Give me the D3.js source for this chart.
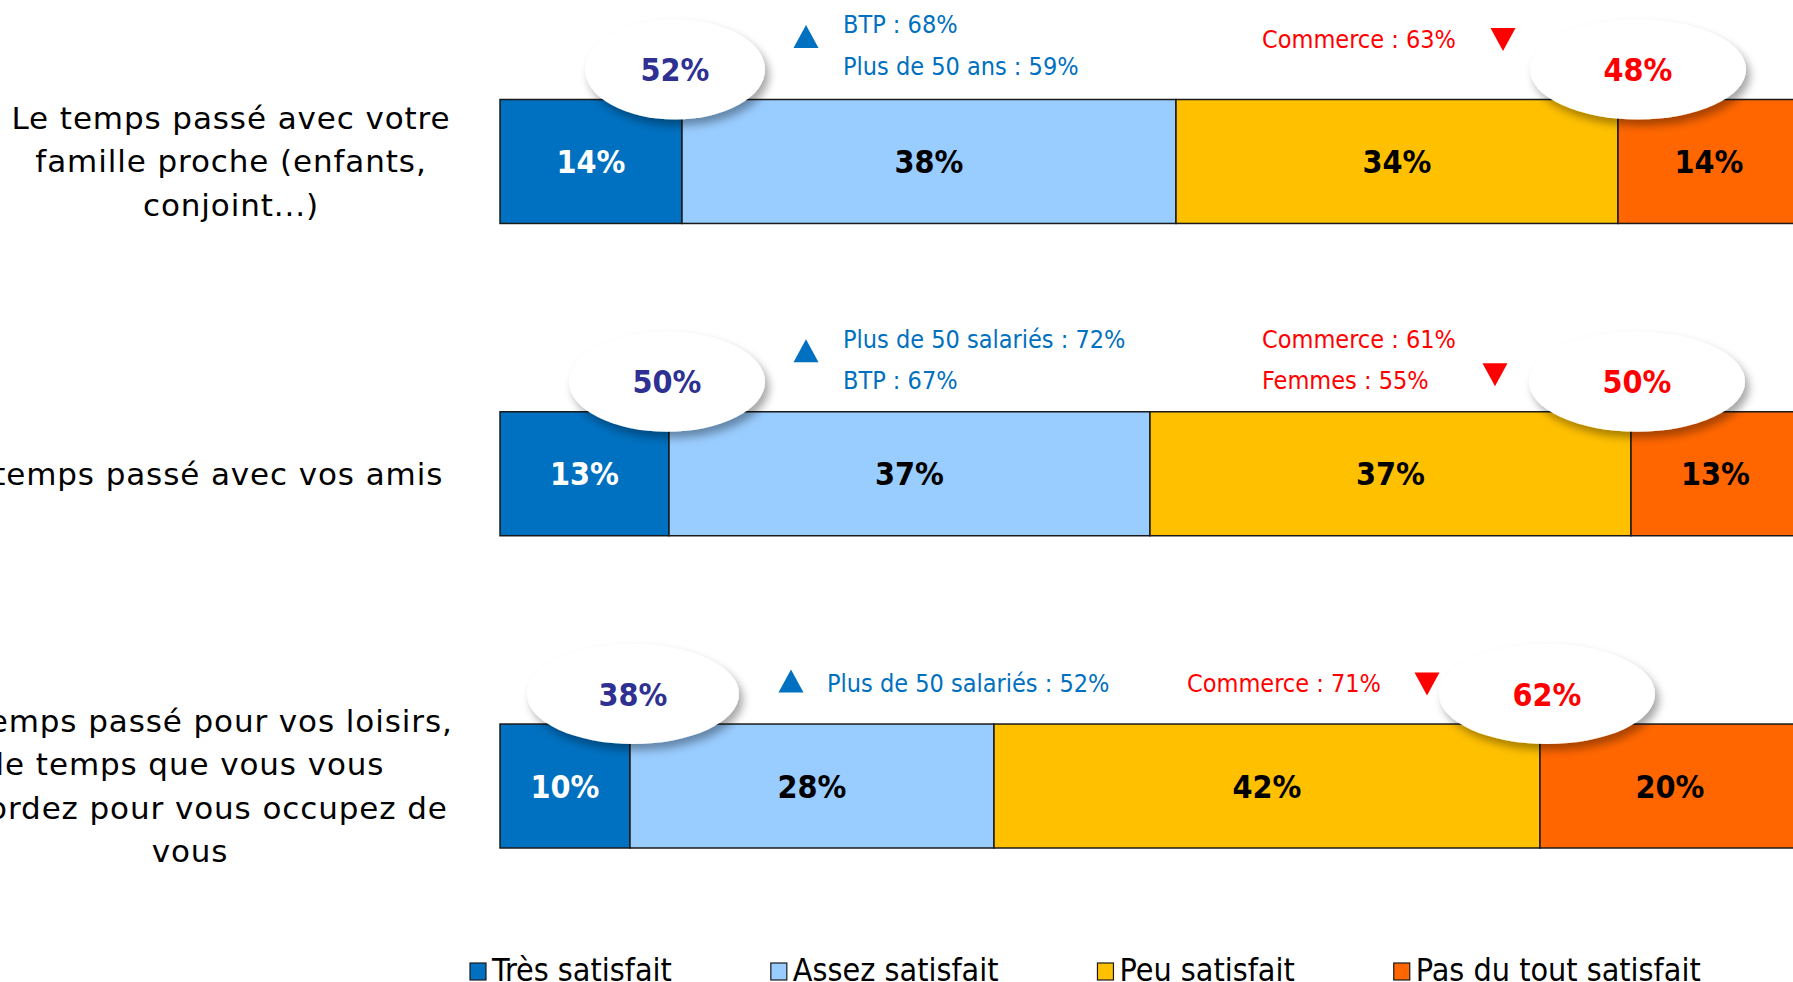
<!DOCTYPE html>
<html>
<head>
<meta charset="utf-8">
<script src="https://cdn.jsdelivr.net/npm/d3@7"></script>
<style>
  html, body { margin: 0; padding: 0; background: #fff; overflow: hidden; }
  svg { display: block; }
</style>
</head>
<body>
<svg width="1793" height="982"></svg>
<script>
const categoryLines = [
  ['Le temps passé avec votre', 'famille proche (enfants,', 'conjoint...)'],
  ['Le temps passé avec vos amis'],
  ['Le temps passé pour vos loisirs,', 'le temps que vous vous', 'accordez pour vous occupez de', 'vous']
];
const seriesNames = ['Très satisfait', 'Assez satisfait', 'Peu satisfait', 'Pas du tout satisfait'];
const tresSatisfait = [14, 13, 10];
const assezSatisfait = [38, 37, 28];
const peuSatisfait = [34, 37, 42];
const pasDuToutSatisfait = [14, 13, 20];
const totalSatisfait = [52, 50, 38];
const totalInsatisfait = [48, 50, 62];
const notesHausse = [['BTP : 68%', 'Plus de 50 ans : 59%'], ['Plus de 50 salariés : 72%', 'BTP : 67%'], ['Plus de 50 salariés : 52%']];
const notesBaisse = [['Commerce : 63%'], ['Commerce : 61%', 'Femmes : 55%'], ['Commerce : 71%']];

const colors = ['#0070C0', '#99CCFF', '#FFC000', '#FF6600'];
const labelColors = ['#ffffff', '#000000', '#000000', '#000000'];

// layout bits (pixels), per row
const labelCenterX = [231, 194, 190];
const lineH = 43.5;
const leftBubbleRx = [90, 98, 106];
const leftBubbleDx = [-7, -2, 3];
const rightBubbleDx = [20, 6, 7];
const noteLayout = [
  {upTriX: 806, upTextX: 843, upY: [-76, -34], upTriY: -63, downTextX: 1262, downY: [-61], downTriX: 1503, downTriY: -60},
  {upTriX: 806, upTextX: 843, upY: [-73, -32], upTriY: -61, downTextX: 1262, downY: [-73, -32], downTriX: 1495, downTriY: -37},
  {upTriX: 791, upTextX: 827, upY: [-41], upTriY: -43, downTextX: 1187, downY: [-41], downTriX: 1427, downTriY: -40}
];

const svg = d3.select('svg');

const defs = svg.append('defs');
defs.append('filter')
  .attr('id', 'shadow')
  .attr('x', '-30%').attr('y', '-30%').attr('width', '160%').attr('height', '170%')
  .append('feDropShadow')
  .attr('dx', 4).attr('dy', 6).attr('stdDeviation', 4)
  .attr('flood-color', '#000').attr('flood-opacity', 0.35);

const rows = categoryLines.map((lines, i) => {
  const vals = [tresSatisfait[i], assezSatisfait[i], peuSatisfait[i], pasDuToutSatisfait[i]];
  let acc = 0;
  const segs = vals.map((v, k) => {
    const s = {key: seriesNames[k], k: k, x0: acc, x1: acc + v, value: v};
    acc += v;
    return s;
  });
  return {i: i, lines: lines, segs: segs};
});

const x = d3.scaleLinear().domain([0, 100]).range([500, 1800]);
const y = d3.scaleBand()
  .domain(rows.map(d => d.i))
  .range([99.5, 848])
  .paddingInner(0.603)
  .paddingOuter(0);

// category labels
const labels = svg.append('g')
  .selectAll('text')
  .data(rows)
  .enter()
  .append('text')
  .attr('text-anchor', 'middle')
  .attr('font-family', 'DejaVu Sans')
  .attr('font-size', 31)
  .attr('letter-spacing', 0.9)
  .attr('fill', '#000')
  .attr('transform', d => {
    const top = y(d.i) + y.bandwidth() / 2 - (d.lines.length - 1) * lineH / 2 + 11;
    return 'translate(' + labelCenterX[d.i] + ',' + top + ')';
  });

labels.selectAll('tspan')
  .data(d => d.lines)
  .enter()
  .append('tspan')
  .attr('x', 0)
  .attr('y', (d, j) => j * lineH)
  .text(d => d);

// bars
const barGroups = svg.append('g')
  .selectAll('g')
  .data(rows)
  .enter()
  .append('g')
  .attr('transform', d => 'translate(0,' + y(d.i) + ')');

barGroups.selectAll('rect')
  .data(d => d.segs)
  .enter()
  .append('rect')
  .attr('x', d => x(d.x0))
  .attr('y', 0)
  .attr('width', d => x(d.x1) - x(d.x0))
  .attr('height', y.bandwidth())
  .attr('fill', d => colors[d.k])
  .attr('stroke', '#1a1a1a')
  .attr('stroke-width', 1.5);

barGroups.selectAll('text')
  .data(d => d.segs)
  .enter()
  .append('text')
  .attr('x', d => (x(d.x0) + x(d.x1)) / 2)
  .attr('y', y.bandwidth() / 2)
  .attr('dy', '0.36em')
  .attr('text-anchor', 'middle')
  .attr('font-family', 'DejaVu Sans Condensed, DejaVu Sans')
  .attr('font-weight', 'bold')
  .attr('font-size', 32)
  .attr('fill', d => labelColors[d.k])
  .text(d => d.value + '%');

// annotations
const notes = svg.append('g');
rows.forEach(r => {
  const top = y(r.i);
  const L = noteLayout[r.i];
  const tri = 12.5;
  notes.append('path')
    .attr('d', 'M' + (L.upTriX - tri) + ',' + (top + L.upTriY + 11.5) +
      'L' + (L.upTriX + tri) + ',' + (top + L.upTriY + 11.5) +
      'L' + L.upTriX + ',' + (top + L.upTriY - 11.5) + 'Z')
    .attr('fill', '#0070C0');
  notesHausse[r.i].forEach((t, j) => {
    notes.append('text')
      .attr('x', L.upTextX)
      .attr('y', top + L.upY[j])
      .attr('dy', '0.36em')
      .attr('font-family', 'DejaVu Sans Condensed, DejaVu Sans')
      .attr('font-size', 25)
      .attr('fill', '#0070C0')
      .text(t);
  });
  notesBaisse[r.i].forEach((t, j) => {
    notes.append('text')
      .attr('x', L.downTextX)
      .attr('y', top + L.downY[j])
      .attr('dy', '0.36em')
      .attr('font-family', 'DejaVu Sans Condensed, DejaVu Sans')
      .attr('font-size', 25)
      .attr('fill', '#FF0000')
      .text(t);
  });
  notes.append('path')
    .attr('d', 'M' + (L.downTriX - tri) + ',' + (top + L.downTriY - 11.5) +
      'L' + (L.downTriX + tri) + ',' + (top + L.downTriY - 11.5) +
      'L' + L.downTriX + ',' + (top + L.downTriY + 11.5) + 'Z')
    .attr('fill', '#FF0000');
});

// bubbles with totals
const bubbles = svg.append('g');
rows.forEach(r => {
  const cy = y(r.i) - 30;
  const items = [
    {cx: x(r.segs[0].x1) + leftBubbleDx[r.i], rx: leftBubbleRx[r.i], text: totalSatisfait[r.i] + '%', color: '#2E3192'},
    {cx: x(r.segs[2].x1) + rightBubbleDx[r.i], rx: 108, text: totalInsatisfait[r.i] + '%', color: '#FF0000'}
  ];
  items.forEach(b => {
    bubbles.append('ellipse')
      .attr('cx', b.cx)
      .attr('cy', cy)
      .attr('rx', b.rx)
      .attr('ry', 50)
      .attr('fill', '#fff')
      .attr('filter', 'url(#shadow)');
    bubbles.append('text')
      .attr('x', b.cx)
      .attr('y', cy)
      .attr('dy', '0.36em')
      .attr('text-anchor', 'middle')
      .attr('font-family', 'DejaVu Sans Condensed, DejaVu Sans')
      .attr('font-weight', 'bold')
      .attr('font-size', 32)
      .attr('fill', b.color)
      .text(b.text);
  });
});

// legend
const legend = svg.append('g').attr('transform', 'translate(0,981)');
let lx = 470;
seriesNames.forEach((name, k) => {
  legend.append('rect')
    .attr('x', lx)
    .attr('y', -18)
    .attr('width', 16)
    .attr('height', 17)
    .attr('fill', colors[k])
    .attr('stroke', '#1a1a1a')
    .attr('stroke-width', 1.2);
  const t = legend.append('text')
    .attr('x', lx + 22)
    .attr('y', 0)
    .attr('font-family', 'DejaVu Sans Condensed, DejaVu Sans')
    .attr('font-size', 32)
    .attr('fill', '#000')
    .text(name);
  lx += 22 + t.node().getComputedTextLength() + 99;
});
</script>
</body>
</html>
